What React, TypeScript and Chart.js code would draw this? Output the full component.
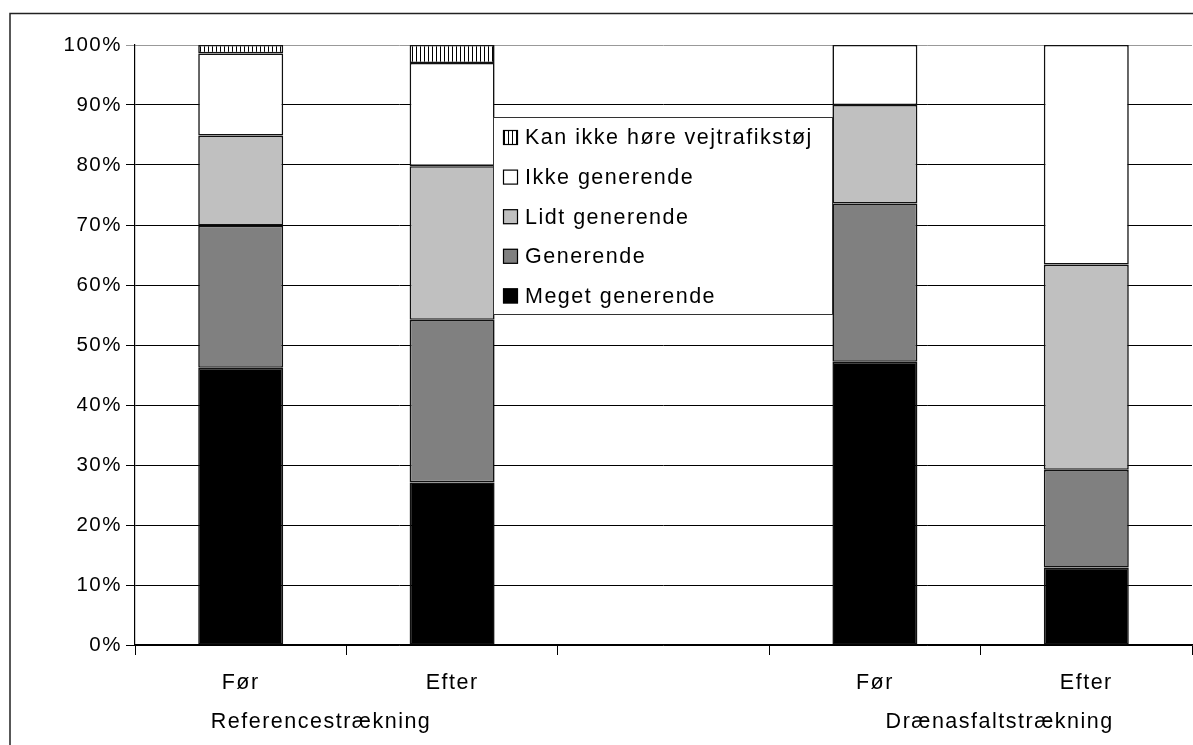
import { useEffect, useRef } from 'react';
import { Chart, registerables } from 'chart.js';

Chart.register(...registerables);

// ---- data ----
const categories = ['Før', 'Efter', '', 'Før', 'Efter'];
const groupLabels = ['Referencestrækning', 'Drænasfaltstrækning'];
const groupCenters = [0.38, 3.59]; // in category units

const seriesNames = [
  'Meget generende',
  'Generende',
  'Lidt generende',
  'Ikke generende',
  'Kan ikke høre vejtrafikstøj',
];
const megetGenerende = [46.2, 27.1, null, 47.2, 12.9];
const generende = [23.7, 27.1, null, 26.4, 16.3];
const lidtGenerende = [15.0, 25.6, null, 16.4, 34.2];
const ikkeGenerende = [13.7, 17.2, null, 10.0, 36.6];
const kanIkkeHoere = [1.4, 3.0, null, null, null];
const yTickValues = [0, 10, 20, 30, 40, 50, 60, 70, 80, 90, 100];

const FONT = '"Liberation Sans", Arial, sans-serif';

function makeStripe(): CanvasPattern | string {
  const c = document.createElement('canvas');
  c.width = 4;
  c.height = 4;
  const g = c.getContext('2d');
  if (!g) return '#fff';
  g.fillStyle = '#fff';
  g.fillRect(0, 0, 4, 4);
  g.fillStyle = '#000';
  g.fillRect(0, 0, 1, 4);
  return g.createPattern(c, 'repeat') || '#fff';
}

export default function App() {
  const ref = useRef<HTMLCanvasElement>(null);

  useEffect(() => {
    const canvas = ref.current;
    if (!canvas) return;
    const stripe = makeStripe();
    const series = [megetGenerende, generende, lidtGenerende, ikkeGenerende, kanIkkeHoere];
    const fills: any[] = ['#000000', '#808080', '#C0C0C0', '#FFFFFF', stripe];

    const framePlugin = {
      id: 'frame',
      beforeDraw(chart: any) {
        const ctx = chart.ctx;
        ctx.save();
        ctx.fillStyle = '#fff';
        ctx.fillRect(0, 0, chart.width, chart.height);
        ctx.strokeStyle = '#222';
        ctx.lineWidth = 1.5;
        ctx.strokeRect(10, 13.5, 2000, 2000);
        ctx.restore();
        (ctx as any).letterSpacing = '1.5px';
      },
    };

    const overlayPlugin = {
      id: 'overlay',
      afterDraw(chart: any) {
        const ctx = chart.ctx;
        const xs = chart.scales.x;
        ctx.save();
        (ctx as any).letterSpacing = '1.5px';
        ctx.fillStyle = '#000';
        ctx.font = `21.5px ${FONT}`;
        ctx.textAlign = 'center';
        ctx.textBaseline = 'alphabetic';
        groupLabels.forEach((g, i) => {
          ctx.fillText(g, xs.getPixelForValue(groupCenters[i]), 728);
        });

        // legend
        const lx = 493, ly = 117, lw = 339, lh = 197;
        ctx.fillStyle = '#fff';
        ctx.fillRect(lx, ly, lw, lh);
        ctx.strokeStyle = '#333';
        ctx.lineWidth = 1;
        ctx.strokeRect(lx + 0.5, ly + 0.5, lw, lh);
        ctx.textAlign = 'left';
        ctx.textBaseline = 'middle';
        ctx.font = `21.5px ${FONT}`;
        const order = [4, 3, 2, 1, 0];
        order.forEach((si, k) => {
          const cy = ly + 20.5 + k * 39.6;
          ctx.fillStyle = fills[si];
          ctx.fillRect(503, cy - 7.5, 15, 15);
          ctx.strokeStyle = '#000';
          ctx.lineWidth = 1.2;
          ctx.strokeRect(503.5, cy - 7, 14, 14);
          ctx.fillStyle = '#000';
          ctx.fillText(seriesNames[si], 525, cy + 1);
        });
        ctx.restore();
      },
    };

    const chart = new Chart(canvas, {
      type: 'bar',
      data: {
        labels: categories,
        datasets: series.map((s, i) => ({
          label: seriesNames[i],
          data: s as any,
          backgroundColor: fills[i],
          borderColor: '#111',
          borderWidth: 1.6,
          borderSkipped: false,
          barPercentage: 0.402,
          categoryPercentage: 1,
        })),
      },
      options: {
        responsive: false,
        animation: false,
        layout: { padding: { left: 0, right: 1, top: 45, bottom: 0 } },
        plugins: { legend: { display: false }, tooltip: { enabled: false } },
        scales: {
          x: {
            stacked: true,
            grid: { offset: true, drawOnChartArea: false, tickLength: 10, color: '#000' },
            border: { color: '#000', width: 1.2 },
            ticks: {
              font: { size: 21.5, family: FONT },
              color: '#000',
              padding: 15,
              maxRotation: 0,
              autoSkip: false,
            },
            afterFit(s: any) {
              s.height = 100;
            },
          },
          y: {
            stacked: true,
            min: 0,
            max: 100,
            afterBuildTicks(s: any) {
              s.ticks = yTickValues.map((v) => ({ value: v }));
            },
            ticks: {
              callback: (v: any) => `${v}%`,
              font: { size: 20.5, family: FONT },
              color: '#000',
              padding: 4,
            },
            grid: {
              color: (c: any) => (c.tick && c.tick.value === 100 ? '#999' : '#000'),
              tickLength: 9,
            },
            border: { color: '#000', width: 1.2 },
            afterFit(s: any) {
              s.width = 135;
            },
          },
        },
      },
      plugins: [framePlugin, overlayPlugin],
    });
    return () => chart.destroy();
  }, []);

  return (
    <div style={{ position: 'fixed', left: 0, top: 0, width: 1193, height: 745, background: '#fff' }}>
      <canvas ref={ref} width={1193} height={745} style={{ display: 'block' }} />
    </div>
  );
}
